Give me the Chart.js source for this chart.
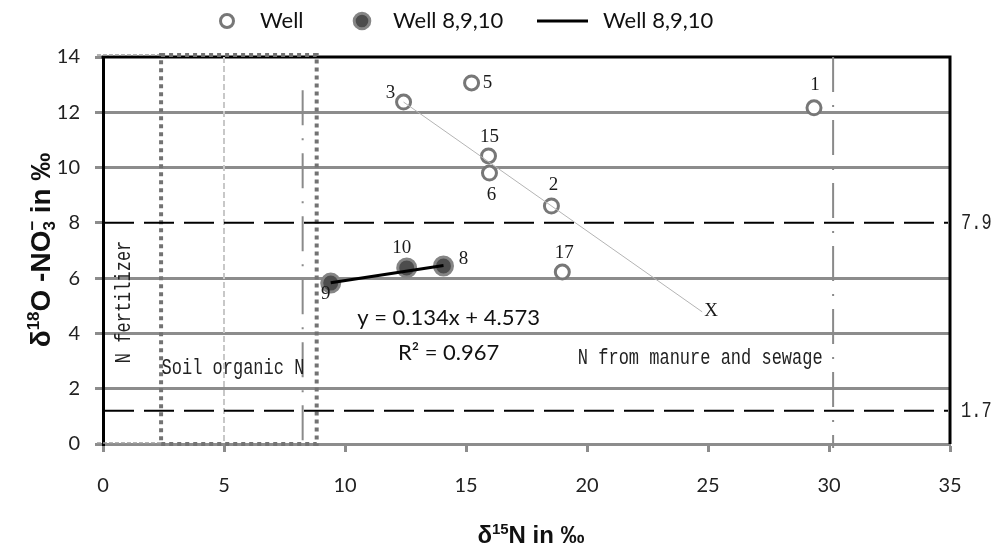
<!DOCTYPE html>
<html><head><meta charset="utf-8">
<script src="https://cdn.jsdelivr.net/npm/chart.js@4"></script>
<style>html,body{margin:0;padding:0;background:#fff;}#wrap{width:993px;height:544px;}</style>
</head><body><div id="wrap"><canvas id="c" width="993" height="544"></canvas></div>
<script>
// ---------------- data ----------------
const seriesNames = ['Well', 'Well 8,9,10', 'Well 8,9,10'];
const wellLabels = ['1', '2', '3', '5', '6', '15', '17'];
const wellN = [29.38, 18.53, 12.42, 15.23, 15.97, 15.93, 18.98];
const wellO = [12.16, 8.61, 12.37, 13.06, 9.80, 10.42, 6.22];
const groupLabels = ['8', '9', '10'];
const groupN = [14.07, 9.41, 12.55];
const groupO = [6.44, 5.82, 6.37];
const trendN = [9.41, 14.07];
const trendO = [5.83, 6.46];
const xTicks = [0, 5, 10, 15, 20, 25, 30, 35];
const yTicks = [0, 2, 4, 6, 8, 10, 12, 14];
const hRefValues = [8.0, 1.2];
const hRefLabels = ['7.9', '1.7'];
const equationText = 'y = 0.134x + 4.573';
const r2Text = 'R² = 0.967';
const zoneTexts = ['N from manure and sewage', 'Soil organic N', 'N fertilizer'];
const mixLineN = [12.42, 24.76];
const mixLineO = [12.37, 4.78];
const mixLabel = 'X';
const soilBoxN = [2.4, 8.83];
const soilBoxO = [0, 14.07];
const fertBoxN = [-0.25, 2.4];
const midLineN = 5.0;
const dashDotN = [8.25, 30.17];
const dashDotTopO = [12.8, 14.0];

// ---------------- styling / placement (not data) ----------------
const wellLabelOffsets = [[1,-23],[2,-21],[-13,-9],[16,0],[2,22],[1,-19],[2,-19]];
const groupLabelOffsets = [[20,-7],[-5,11],[-5,-20]];
const GRID = '#8c8c8c';
const MONO = '"Liberation Mono", "DejaVu Sans Mono", monospace';
const SERIF = '"Liberation Serif", "DejaVu Serif", serif';
const SANS = 'Lato, "Open Sans", sans-serif';
const BOLD = '"Liberation Sans", Arial, sans-serif';

function drawRich(ctx, segs, cx, cy, rot) {
  ctx.save();
  ctx.translate(cx, cy);
  if (rot) ctx.rotate(rot);
  ctx.textBaseline = 'alphabetic';
  ctx.textAlign = 'left';
  let w = 0;
  segs.forEach(s => { ctx.font = s.font; s.w = ctx.measureText(s.t).width; if (!s.noAdv) w += s.w; });
  let x = -w / 2;
  segs.forEach(s => {
    ctx.font = s.font; ctx.fillStyle = '#111';
    ctx.fillText(s.t, x, s.dy || 0);
    if (!s.noAdv) x += s.w;
  });
  ctx.restore();
}
function tallText(ctx, t, x, y, rot) {
  ctx.save();
  ctx.translate(x, y);
  if (rot) ctx.rotate(rot);
  ctx.scale(1, 1.25);
  ctx.fillText(t, 0, 0);
  ctx.restore();
}

const annot = {
  id: 'annot',
  beforeDatasetsDraw(chart) {
    const {ctx, chartArea: ca, scales: {x, y}} = chart;
    const px = v => x.getPixelForValue(v), py = v => y.getPixelForValue(v);
    ctx.save();
    ctx.strokeStyle = '#000'; ctx.lineWidth = 3;
    ctx.beginPath();
    ctx.moveTo(ca.left - 1.5, ca.top); ctx.lineTo(ca.right, ca.top); ctx.lineTo(ca.right, ca.bottom);
    ctx.stroke();
    ctx.strokeStyle = '#c8c8c8'; ctx.lineWidth = 2; ctx.setLineDash([6, 3]);
    ctx.beginPath(); ctx.moveTo(px(midLineN), py(14)); ctx.lineTo(px(midLineN), py(0)); ctx.stroke();
    ctx.strokeStyle = '#9a9a9a'; ctx.lineWidth = 1.5; ctx.setLineDash([4, 2]);
    ctx.beginPath();
    ctx.moveTo(px(fertBoxN[0]), py(0) - 1); ctx.lineTo(px(fertBoxN[1]), py(0) - 1);
    ctx.moveTo(px(fertBoxN[0]), py(soilBoxO[1])); ctx.lineTo(px(fertBoxN[1]), py(soilBoxO[1]));
    ctx.stroke();
    ctx.strokeStyle = '#737373'; ctx.lineWidth = 4; ctx.setLineDash([4, 4]);
    ctx.beginPath();
    ctx.moveTo(px(soilBoxN[0]), py(soilBoxO[1])); ctx.lineTo(px(soilBoxN[1]), py(soilBoxO[1]));
    ctx.lineTo(px(soilBoxN[1]), py(soilBoxO[0])); ctx.lineTo(px(soilBoxN[0]), py(soilBoxO[0]));
    ctx.closePath();
    ctx.stroke();
    ctx.strokeStyle = '#8a8a8a'; ctx.lineWidth = 2; ctx.setLineDash([35, 13, 2, 13]);
    dashDotN.forEach((v, i) => {
      ctx.beginPath(); ctx.moveTo(px(v), py(dashDotTopO[i])); ctx.lineTo(px(v), py(0) + 4); ctx.stroke();
    });
    ctx.strokeStyle = '#000'; ctx.lineWidth = 2; ctx.setLineDash([30, 10]);
    hRefValues.forEach(v => {
      ctx.beginPath(); ctx.moveTo(ca.left + 1, py(v)); ctx.lineTo(ca.right - 2, py(v)); ctx.stroke();
    });
    ctx.setLineDash([]);
    ctx.restore();
  },
  afterDatasetsDraw(chart) {
    const {ctx, chartArea: ca, scales: {x, y}} = chart;
    const px = v => x.getPixelForValue(v), py = v => y.getPixelForValue(v);
    ctx.save();
    ctx.strokeStyle = '#b4b4b4'; ctx.lineWidth = 1;
    ctx.beginPath(); ctx.moveTo(px(mixLineN[0]), py(mixLineO[0])); ctx.lineTo(px(mixLineN[1]), py(mixLineO[1])); ctx.stroke();
    ctx.fillStyle = '#1a1a1a'; ctx.font = '19px ' + SERIF; ctx.textAlign = 'center'; ctx.textBaseline = 'middle';
    wellLabels.forEach((t, i) => ctx.fillText(t, px(wellN[i]) + wellLabelOffsets[i][0], py(wellO[i]) + wellLabelOffsets[i][1]));
    groupLabels.forEach((t, i) => ctx.fillText(t, px(groupN[i]) + groupLabelOffsets[i][0], py(groupO[i]) + groupLabelOffsets[i][1]));
    ctx.fillText(mixLabel, px(mixLineN[1]) + 9, py(mixLineO[1]) - 1);
    ctx.fillStyle = '#222'; ctx.font = '17px ' + MONO;
    tallText(ctx, zoneTexts[0], px(24.68), py(3.11));
    tallText(ctx, zoneTexts[1], px(5.37), py(2.75));
    tallText(ctx, zoneTexts[2], px(0.87), py(5.14), -Math.PI / 2);
    ctx.textAlign = 'left';
    hRefValues.forEach((v, i) => tallText(ctx, hRefLabels[i], ca.right + 11, py(v) + 1));
    ctx.fillStyle = '#111'; ctx.font = '22px ' + SANS; ctx.textAlign = 'center';
    ctx.fillText(equationText, px(14.28), py(4.56));
    ctx.fillText(r2Text, px(14.28), py(3.29));
    ctx.restore();
  },
  afterDraw(chart) {
    const {ctx} = chart;
    ctx.save();
    const ly = 21;
    ctx.strokeStyle = '#777'; ctx.lineWidth = 3; ctx.fillStyle = '#fff';
    ctx.beginPath(); ctx.arc(227, ly, 6.5, 0, Math.PI * 2); ctx.fill(); ctx.stroke();
    ctx.strokeStyle = '#858585'; ctx.lineWidth = 3; ctx.fillStyle = '#4d4d4d';
    ctx.beginPath(); ctx.arc(362, ly, 7.8, 0, Math.PI * 2); ctx.fill(); ctx.stroke();
    ctx.strokeStyle = '#000'; ctx.lineWidth = 3;
    ctx.beginPath(); ctx.moveTo(537, ly); ctx.lineTo(588, ly); ctx.stroke();
    ctx.fillStyle = '#111'; ctx.font = '22px ' + SANS; ctx.textAlign = 'left'; ctx.textBaseline = 'middle';
    ctx.fillText(seriesNames[0], 260, ly);
    ctx.fillText(seriesNames[1], 393, ly);
    ctx.fillText(seriesNames[2], 603, ly);
    ctx.restore();
    drawRich(ctx, [
      {t: 'δ', font: 'bold 24px ' + BOLD}, {t: '15', font: 'bold 15px ' + BOLD, dy: -9}, {t: 'N in ‰', font: 'bold 24px ' + BOLD}
    ], 531, 543, 0);
    const big = 'bold 28px ' + BOLD, small = 'bold 17px ' + BOLD;
    drawRich(ctx, [
      {t: 'δ', font: big}, {t: '18', font: small, dy: -11}, {t: 'O -NO', font: big},
      {t: '−', font: small, dy: -12, noAdv: true}, {t: '3', font: small, dy: 5}, {t: ' in ‰', font: big}
    ], 50, 250, -Math.PI / 2);
  }
};

const ctx = document.getElementById('c').getContext('2d');
new Chart(ctx, {
  type: 'scatter',
  data: {
    datasets: [
      {label: seriesNames[2], type: 'line', data: trendN.map((v, i) => ({x: v, y: trendO[i]})),
       borderColor: '#000', borderWidth: 3, pointRadius: 0, fill: false, order: 0},
      {label: seriesNames[1], data: groupN.map((v, i) => ({x: v, y: groupO[i]})),
       pointRadius: 9, backgroundColor: '#4d4d4d', borderColor: '#858585', borderWidth: 3, order: 1},
      {label: seriesNames[0], data: wellN.map((v, i) => ({x: v, y: wellO[i]})),
       pointRadius: 7, backgroundColor: '#fff', borderColor: '#777', borderWidth: 3, order: 2}
    ]
  },
  options: {
    responsive: false, animation: false, devicePixelRatio: 1,
    layout: {padding: {left: 0, right: 43, top: 57, bottom: 0}},
    plugins: {legend: {display: false}, tooltip: {enabled: false}},
    scales: {
      x: {
        type: 'linear', min: 0, max: 35,
        afterFit: s => { s.height = 100; },
        afterBuildTicks: s => { s.ticks = xTicks.map(v => ({value: v})); },
        grid: {drawOnChartArea: false, drawTicks: true, tickLength: 8, tickColor: GRID, tickWidth: 3},
        border: {color: GRID, width: 3},
        ticks: {padding: 22, color: '#222', font: {family: SANS, size: 20}}
      },
      y: {
        type: 'linear', min: 0, max: 14,
        afterFit: s => { s.width = 103; },
        afterBuildTicks: s => { s.ticks = yTicks.map(v => ({value: v})); },
        grid: {
          lineWidth: 3, tickLength: 8, tickColor: GRID, tickWidth: 3,
          color: c => (c.tick && [0, 8, 14].includes(c.tick.value)) ? 'rgba(0,0,0,0)' : GRID
        },
        border: {color: '#000', width: 3},
        ticks: {padding: 15, color: '#222', font: {family: SANS, size: 20}}
      }
    }
  },
  plugins: [annot]
});
</script></body></html>
